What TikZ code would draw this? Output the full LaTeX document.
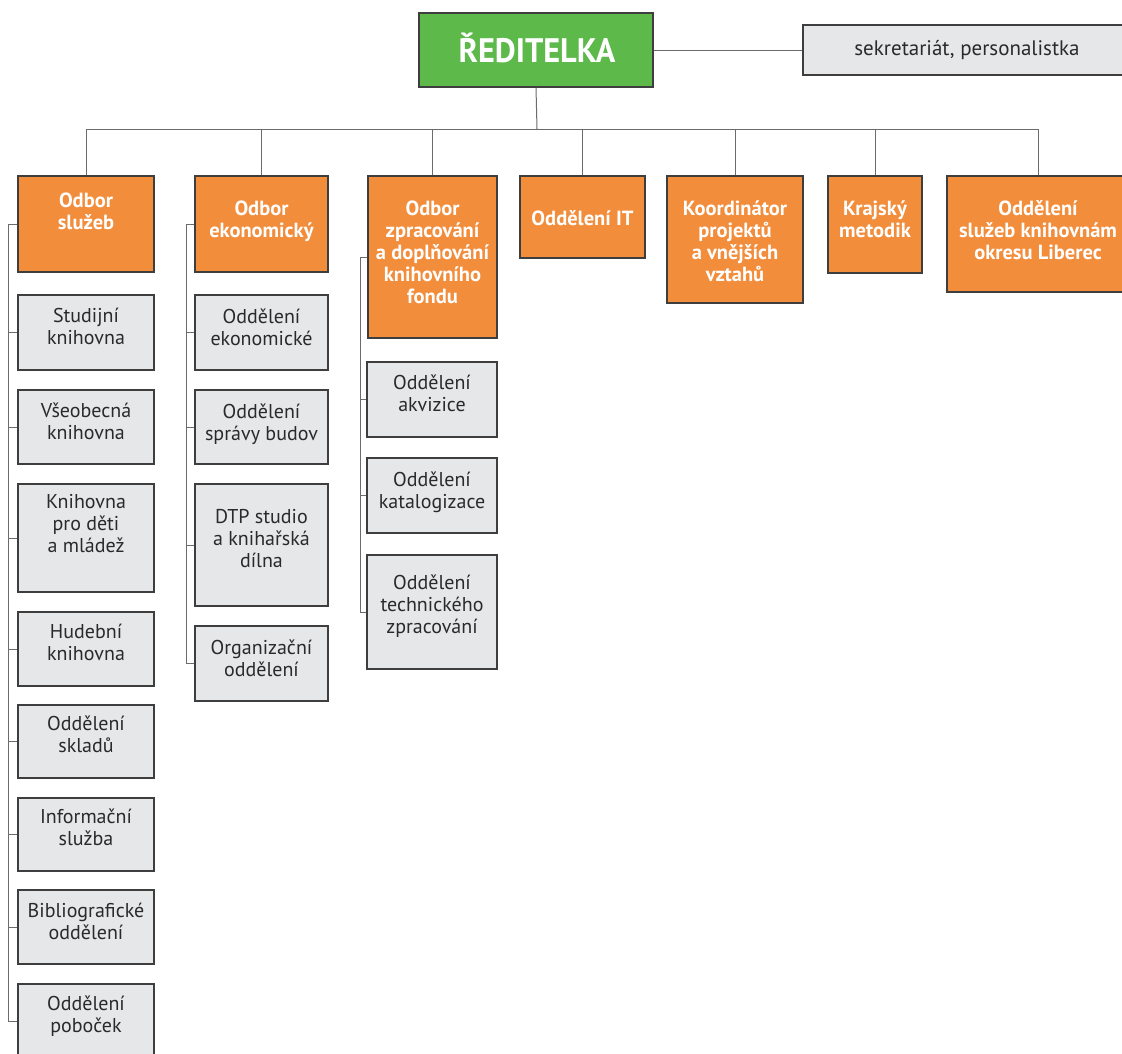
\documentclass[tikz,border=0pt]{standalone}
\usepackage{fontspec}
\setmainfont{PT Sans}
\newfontfamily\condfont[FakeStretch=0.95]{PT Sans}
\definecolor{bordc}{HTML}{3E3E3E}
\definecolor{linec}{HTML}{6A6B6E}
\definecolor{grayf}{HTML}{E6E7E8}
\definecolor{orangef}{HTML}{F28D3C}
\definecolor{greenf}{HTML}{5CB94A}
\definecolor{txtc}{HTML}{2A2A2A}
\newcommand{\bx}[6]{\node[#2, minimum width={#5-#3}, minimum height={#6-#4}] (#1) at ({(#3+#5)/2},{(#4+#6)/2}) {};}
\begin{document}
\begin{tikzpicture}[x=1pt,y=-1pt,
  box/.style={draw=bordc, line width=1.1pt, rectangle, inner sep=0pt},
  gbox/.style={box, fill=grayf},
  obox/.style={box, fill=orangef},
  gtxt/.style={align=center, text=txtc, font=\fontsize{20}{22}\selectfont, inner sep=0pt, yshift=-2.5pt, execute at begin node=\strut, execute at end node=\strut},
  otxt/.style={gtxt, text=white, font=\bfseries\fontsize{20.5}{22}\selectfont},
  conn/.style={draw=linec, line width=1pt}]
\useasboundingbox (0,0) rectangle (1122,1053);
\clip (0,0) rectangle (1122,1053);
% top
\bx{dir}{box, fill=greenf}{419}{13}{653}{87}
\node[text=white, inner sep=0pt, font=\condfont\bfseries\fontsize{34}{40}\selectfont, anchor=base] (dirt) at (537,62) {ŘEDITELKA};
\bx{sek}{gbox}{803}{25}{1131}{75}
\node[gtxt, font=\fontsize{21}{22}\selectfont, yshift=1pt] (sekt) at (967,50) {sekretariát, personalistka};
% level 1
\bx{o1}{obox}{18}{176}{154}{272}
\bx{o2}{obox}{195}{176}{328}{272}
\bx{o3}{obox}{368}{176}{497}{338}
\bx{o4}{obox}{520}{176}{645}{258}
\bx{o5}{obox}{667}{176}{803}{303}
\bx{o6}{obox}{828}{176}{922}{273}
\bx{o7}{obox}{947}{176}{1129}{292}
\node[otxt] (o1t) at (o1 |- 0,212) {Odbor\\služeb};
\node[otxt] (o2t) at (o2 |- 0,220) {Odbor\\ekonomický};
\node[otxt] (o3t) at (o3 |- 0,253) {Odbor\\zpracování\\a doplňování\\knihovního\\fondu};
\node[otxt] (o4t) at (o4 |- 0,219) {Oddělení IT};
\node[otxt] (o5t) at (o5 |- 0,242) {Koordinátor\\projektů\\a vnějších\\vztahů};
\node[otxt] (o6t) at (o6 |- 0,220) {Krajský\\metodik};
\node[otxt] (o7t) at (o7 |- 0,231) {Oddělení\\služeb knihovnám\\okresu Liberec};
% column 1
\bx{a1}{gbox}{18}{295}{154}{370}
\bx{a2}{gbox}{18}{390}{154}{464}
\bx{a3}{gbox}{18}{484}{154}{592}
\bx{a4}{gbox}{18}{612}{154}{686}
\bx{a5}{gbox}{18}{705}{154}{778}
\bx{a6}{gbox}{18}{798}{154}{871}
\bx{a7}{gbox}{18}{890}{154}{964}
\bx{a8}{gbox}{18}{984}{154}{1058}
\node[gtxt] (a1t) at (a1 |- 0,327) {Studijní\\knihovna};
\node[gtxt] (a2t) at (a2 |- 0,422) {Všeobecná\\knihovna};
\node[gtxt] (a3t) at (a3 |- 0,524) {Knihovna\\pro děti\\a mládež};
\node[gtxt] (a4t) at (a4 |- 0,643) {Hudební\\knihovna};
\node[gtxt] (a5t) at (a5 |- 0,735) {Oddělení\\skladů};
\node[gtxt] (a6t) at (a6 |- 0,828) {Informační\\služba};
\node[gtxt] (a7t) at (a7 |- 0,922) {Bibliografické\\oddělení};
\node[gtxt] (a8t) at (a8 |- 0,1015) {Oddělení\\poboček};
% column 2
\bx{b1}{gbox}{195}{295}{328}{370}
\bx{b2}{gbox}{195}{390}{328}{464}
\bx{b3}{gbox}{195}{484}{328}{606}
\bx{b4}{gbox}{195}{626}{328}{701}
\node[gtxt] (b1t) at (b1 |- 0,328) {Oddělení\\ekonomické};
\node[gtxt] (b2t) at (b2 |- 0,423) {Oddělení\\správy budov};
\node[gtxt] (b3t) at (b3 |- 0,539) {DTP studio\\a knihařská\\dílna};
\node[gtxt] (b4t) at (b4 |- 0,659) {Organizační\\oddělení};
% column 3
\bx{c1}{gbox}{367}{362}{497}{437}
\bx{c2}{gbox}{367}{458}{497}{533}
\bx{c3}{gbox}{367}{555}{497}{669}
\node[gtxt] (c1t) at (c1 |- 0,394) {Oddělení\\akvizice};
\node[gtxt] (c2t) at (c2 |- 0,491) {Oddělení\\katalogizace};
\node[gtxt] (c3t) at (c3 |- 0,605) {Oddělení\\technického\\zpracování};
% connectors
\draw[conn] (dir.east) -- (sek.west);
\coordinate (bus) at (537,129);
\draw[conn] (dir.south) -- (bus);
\foreach \c in {o1,o2,o3,o4,o5,o6,o7} \draw[conn] (bus) -| (\c.north);
\foreach \c in {a1,a2,a3,a4,a5,a6,a7,a8} \draw[conn] (o1.west) -- ++(-9,0) |- (\c.west);
\foreach \c in {b1,b2,b3,b4} \draw[conn] (o2.west) -- ++(-8,0) |- (\c.west);
\foreach \c in {c1,c2,c3} \draw[conn] (o3.west) -- ++(-7,0) |- (\c.west);
\end{tikzpicture}
\end{document}
